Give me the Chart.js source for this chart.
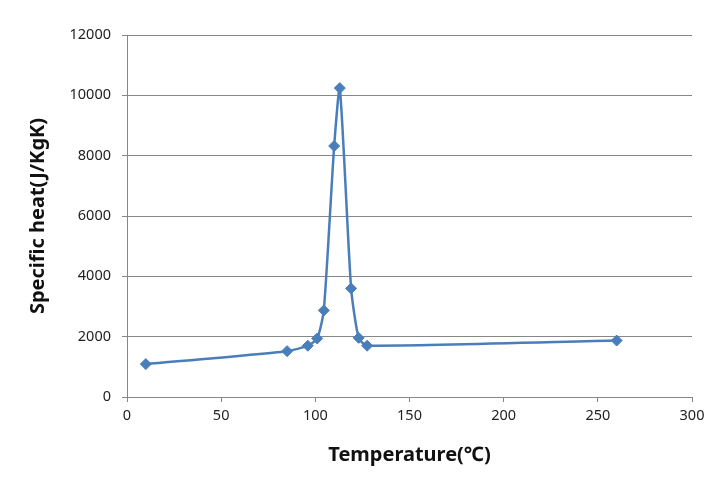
<!DOCTYPE html>
<html>
<head>
<meta charset="utf-8">
<script src="https://cdn.jsdelivr.net/npm/chart.js@4.4.0/dist/chart.umd.min.js"></script>
<style>
  html, body { margin: 0; padding: 0; background: #fff; }
  #wrap { width: 727px; height: 488px; }
</style>
</head>
<body>
<div id="wrap"><canvas id="heatChart" width="727" height="488"></canvas></div>
<script>
// Values
const temperature = [10, 85, 96, 101, 104.5, 110, 113, 119, 123, 127.5, 260];
const specificHeat = [1090, 1520, 1700, 1940, 2870, 8320, 10240, 3600, 1960, 1700, 1870];
const xTicks = [0, 50, 100, 150, 200, 250, 300];
const yTicks = [0, 2000, 4000, 6000, 8000, 10000, 12000];

const lineColor = '#4a7ebb';
const gridColor = '#878787';
const tickFont = { family: "'Noto Sans', 'DejaVu Sans', sans-serif", size: 14.5 };
const titleFont = { family: "'Noto Sans', 'DejaVu Sans', sans-serif", size: 20, weight: 'bold' };

const ctx = document.getElementById('heatChart').getContext('2d');

new Chart(ctx, {
    type: 'line',
    data: {
        datasets: [{
            label: 'Specific heat',
            data: temperature.map((t, i) => ({ x: t, y: specificHeat[i] })),
            borderColor: lineColor,
            backgroundColor: lineColor,
            borderWidth: 2.5,
            tension: 0.2,
            pointStyle: 'rectRot',
            pointRadius: 5.5,
            pointBorderWidth: 1,
            fill: false
        }]
    },
    options: {
        responsive: false,
        animation: false,
        layout: { padding: { top: 35, right: 35, left: 0, bottom: 0 } },
        plugins: {
            legend: { display: false },
            tooltip: { enabled: false }
        },
        scales: {
            x: {
                type: 'linear',
                min: 0,
                max: 300,
                afterBuildTicks: s => { s.ticks = xTicks.map(v => ({ value: v })); },
                afterFit: s => { s.height = 91; },
                ticks: { color: '#222', font: tickFont, padding: 5, maxRotation: 0, callback: v => String(v) },
                grid: { drawOnChartArea: false, tickLength: 5, color: gridColor },
                border: { color: gridColor },
                title: {
                    display: true,
                    text: 'Temperature(℃)',
                    color: '#111',
                    font: titleFont,
                    padding: { top: 0, bottom: 21 }
                }
            },
            y: {
                min: 0,
                max: 12000,
                afterBuildTicks: s => { s.ticks = yTicks.map(v => ({ value: v })); },
                afterFit: s => { s.width = 127; },
                ticks: { color: '#222', font: tickFont, padding: 11, callback: v => String(v) },
                grid: { tickLength: 5, color: gridColor },
                border: { color: gridColor },
                title: {
                    display: true,
                    text: 'Specific heat(J/KgK)',
                    color: '#111',
                    font: titleFont,
                    padding: { top: 26, bottom: 0 }
                }
            }
        }
    }
});
</script>
</body>
</html>
